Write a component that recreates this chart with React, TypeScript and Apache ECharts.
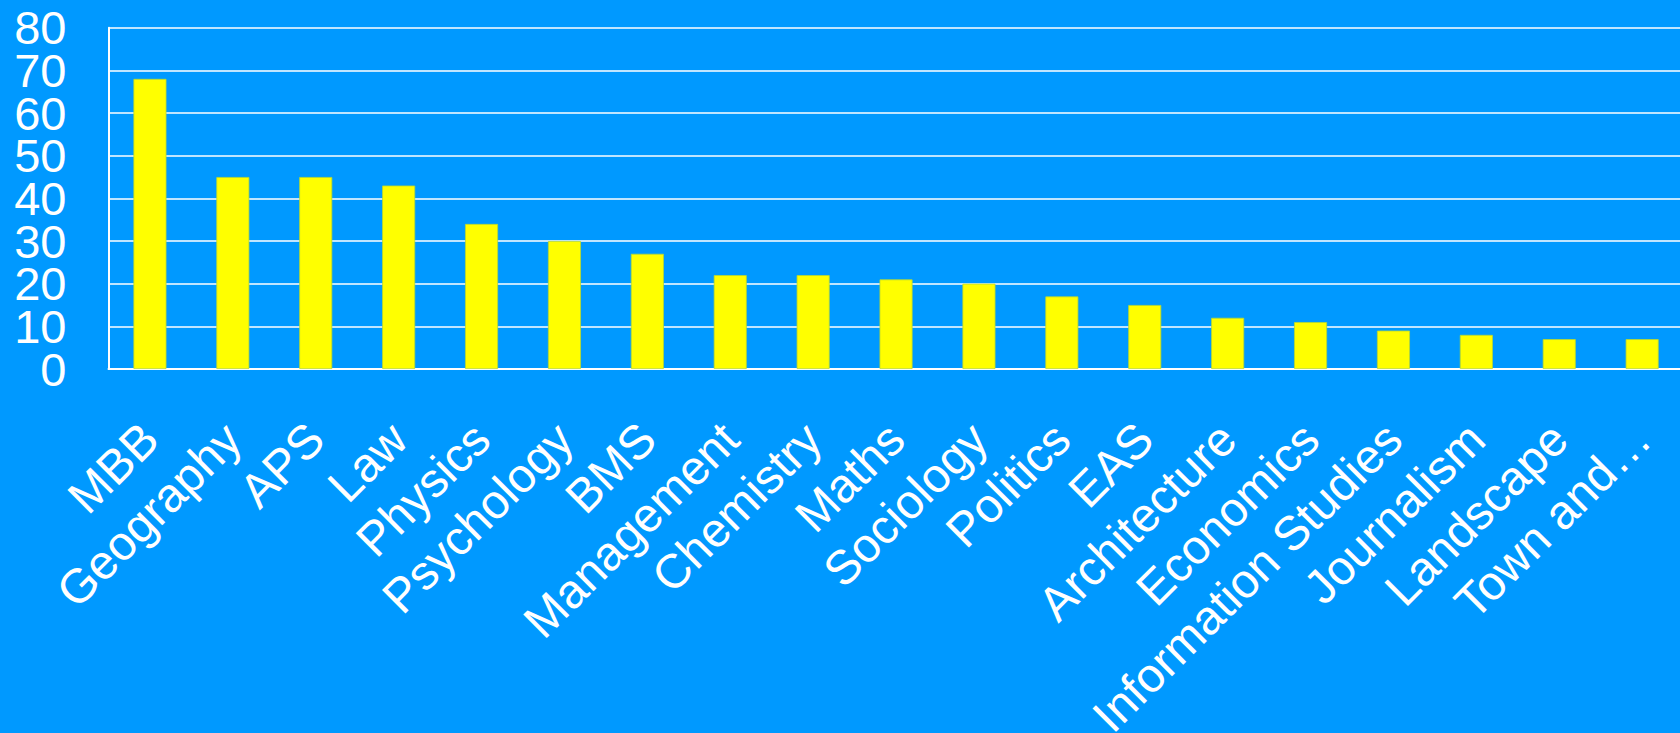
import React, { useEffect, useRef } from "react";
import * as echarts from "echarts";

const categories = [
  "MBB", "Geography", "APS", "Law", "Physics", "Psychology", "BMS",
  "Management", "Chemistry", "Maths", "Sociology", "Politics", "EAS",
  "Architecture", "Economics", "Information Studies", "Journalism",
  "Landscape", "Town and…",
];
const values = [68, 45, 45, 43, 34, 30, 27, 22, 22, 21, 20, 17, 15, 12, 11, 9, 8, 7, 7];
// y axis: 0..80 step 10; labels split over two aligned axes (even / odd tens)
const yMin = 0;
const yMax = 80;
const yLabelStep = 20;
const yOddMin = -10;
const yOddMax = 90;

const FONT = "'Liberation Sans', Arial, Helvetica, sans-serif";

export default function App() {
  const ref = useRef<HTMLDivElement>(null);
  useEffect(() => {
    if (!ref.current) return;
    const chart = echarts.init(ref.current, null, { renderer: "svg" });
    const top = 27.7;
    const bottom = 364;
    const plotH = 733 - top - bottom;
    const unit = plotH / (yMax - yMin);
    const labelStyle = {
      margin: 42,
      color: "#ffffff",
      fontSize: 47,
      fontFamily: FONT,
    };
    chart.setOption({
      animation: false,
      backgroundColor: "#0099ff",
      grid: [
        { left: 108.5, right: -3.6, top, bottom, containLabel: false, outerBoundsMode: "none" },
        {
          left: 108.5,
          right: -3.6,
          top: top - (yMin - yOddMin) * unit,
          bottom: bottom - (yOddMax - yMax) * unit,
          containLabel: false,
          outerBoundsMode: "none",
        },
      ],
      xAxis: [
        {
          type: "category",
          gridIndex: 0,
          data: categories,
          axisLine: { show: true, lineStyle: { color: "#ffffff", width: 2 } },
          axisTick: { show: false },
          axisLabel: {
            interval: 0,
            rotate: 45,
            margin: 62,
            color: "#ffffff",
            fontSize: 48,
            fontFamily: FONT,
          },
        },
        { type: "category", gridIndex: 1, data: categories, show: false },
      ],
      yAxis: [
        {
          type: "value",
          gridIndex: 0,
          min: yMin,
          max: yMax,
          interval: yLabelStep,
          axisLine: { show: true, lineStyle: { color: "#ffffff", width: 2 } },
          axisTick: { show: false },
          splitLine: { show: true, lineStyle: { color: "#ffffff", width: 1.6 } },
          minorTick: { show: false, splitNumber: 2 },
          minorSplitLine: { show: true, lineStyle: { color: "#ffffff", width: 1.6 } },
          axisLabel: labelStyle,
        },
        {
          type: "value",
          gridIndex: 1,
          min: yOddMin,
          max: yOddMax,
          interval: yLabelStep,
          axisLine: { show: false },
          axisTick: { show: false },
          splitLine: { show: false },
          axisLabel: { ...labelStyle, showMinLabel: false, showMaxLabel: false },
        },
      ],
      series: [
        {
          type: "bar",
          xAxisIndex: 0,
          yAxisIndex: 0,
          data: values,
          barWidth: 33,
          itemStyle: { color: "#ffff00", borderColor: "#b8d830", borderWidth: 0.8 },
        },
      ],
    });
    return () => chart.dispose();
  }, []);
  return (
    <div
      ref={ref}
      style={{ position: "absolute", left: 0, top: 0, width: 1680, height: 733 }}
    />
  );
}
